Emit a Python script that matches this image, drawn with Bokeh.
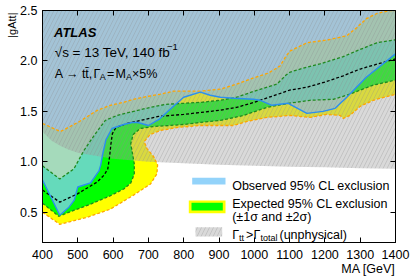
import numpy as np
from bokeh.plotting import figure
from bokeh.models import (Range1d, LinearAxis, FixedTicker, Label, BoxAnnotation,
                          PrintfTickFormatter, CustomJSTickFormatter, Title)
from bokeh.embed import file_html
from bokeh.resources import INLINE

# ---------------- data ----------------
x_ticks = [400, 500, 600, 700, 800, 900, 1000, 1100, 1200, 1300, 1400]
y_ticks = [0.5, 1.0, 1.5, 2.0, 2.5]

# observed 95% CL exclusion contour (excluded above)
obs_x = [400, 449, 475, 490, 500, 536, 560, 565, 572, 580, 597, 630, 654, 670, 700, 730, 771, 800, 847, 875, 904, 941, 997, 1017, 1050, 1096, 1149, 1195, 1229, 1262, 1318, 1400]
obs_y = [0.82, 0.47, 0.55, 0.62, 0.75, 0.79, 0.91, 0.97, 1.10, 1.22, 1.33, 1.37, 1.39, 1.39, 1.36, 1.42, 1.55, 1.64, 1.69, 1.66, 1.64, 1.63, 1.62, 1.61, 1.56, 1.58, 1.48, 1.50, 1.53, 1.64, 1.84, 2.07]

# expected contour
exp_x = [400, 449, 498, 555, 575, 585, 590, 594, 598, 608, 640, 677, 729, 800, 850, 900, 950, 1000, 1050, 1100, 1150, 1200, 1250, 1300, 1350, 1400]
exp_y = [0.72, 0.60, 0.68, 0.80, 0.87, 0.93, 1.05, 1.18, 1.28, 1.34, 1.38, 1.41, 1.45, 1.47, 1.49, 1.51, 1.54, 1.59, 1.65, 1.71, 1.74, 1.79, 1.85, 1.92, 1.97, 2.02]

# expected -1 sigma
m1_x = [400, 446, 490, 536, 590, 630, 650, 660, 660, 655, 650, 657, 677, 715, 760, 800, 847, 904, 970, 1036, 1097, 1158, 1224, 1262, 1337, 1400]
m1_y = [0.59, 0.46, 0.52, 0.58, 0.66, 0.73, 0.79, 0.88, 0.98, 1.08, 1.18, 1.27, 1.33, 1.35, 1.36, 1.37, 1.39, 1.41, 1.46, 1.54, 1.58, 1.61, 1.62, 1.66, 1.76, 1.81]

# expected -2 sigma
m2_x = [400, 449, 526, 592, 658, 706, 724, 726, 715, 696, 688, 705, 734, 781, 847, 941, 979, 1036, 1102, 1158, 1205, 1243, 1252, 1271, 1300, 1337, 1400]
m2_y = [0.50, 0.38, 0.45, 0.53, 0.67, 0.78, 0.88, 0.97, 1.05, 1.13, 1.20, 1.27, 1.31, 1.34, 1.36, 1.36, 1.40, 1.44, 1.46, 1.44, 1.47, 1.46, 1.43, 1.46, 1.55, 1.61, 1.67]

# expected +1 sigma
p1_x = [400, 449, 489, 517, 550, 578, 611, 658, 706, 750, 800, 850, 904, 950, 1000, 1064, 1090, 1102, 1150, 1186, 1250, 1290, 1347, 1400]
p1_y = [0.96, 0.83, 0.93, 1.11, 1.28, 1.41, 1.46, 1.50, 1.54, 1.57, 1.58, 1.59, 1.61, 1.64, 1.70, 1.77, 1.86, 1.89, 1.94, 1.97, 2.04, 2.10, 2.18, 2.21]

# expected +2 sigma
p2_x = [400, 451, 505, 555, 592, 630, 658, 700, 734, 771, 847, 904, 950, 988, 1040, 1073, 1090, 1102, 1149, 1210, 1262, 1290, 1318, 1347, 1384, 1400]
p2_y = [1.38, 1.30, 1.40, 1.51, 1.56, 1.59, 1.62, 1.65, 1.67, 1.70, 1.70, 1.72, 1.77, 1.82, 1.88, 1.95, 2.05, 2.10, 2.18, 2.21, 2.25, 2.33, 2.42, 2.47, 2.50, 2.50]

# unphysical boundary (Gamma_tt > Gamma_total above)
gray_x = [400, 425, 450, 475, 500, 550, 600, 700, 800, 900, 1000, 1100, 1200, 1300, 1400]
gray_y = [1.30, 1.21, 1.16, 1.12, 1.09, 1.06, 1.03, 1.00, 0.985, 0.97, 0.96, 0.95, 0.945, 0.935, 0.93]

# ---------------- layout ----------------
X0, X1 = 400, 1400
Y0, Y1 = 0.2, 2.5
W, H = 410, 278
ML, MR, MT, MB = 42, 15, 10, 36
FW = W - ML - MR
FH = H - MT - MB
FL = ML   # frame left in canvas px
FT = MT   # frame top in canvas px

FONT = "Liberation Sans"

YELLOW = "#ffff00"
GREEN = "#00ff00"
OBS_FILL = "#87cefa"
OBS_LINE = "#2b8ef0"
ORANGE = "#ffa500"
DKGREEN = "#1f8a1f"


def dx(px):
    return X0 + (px - FL) / FW * (X1 - X0)


def dy(py):
    return Y1 - (py - FT) / FH * (Y1 - Y0)


p = figure(width=W, height=H, x_range=Range1d(X0, X1), y_range=Range1d(Y0, Y1),
           output_backend="svg", toolbar_location=None,
           min_border_left=ML, min_border_right=MR, min_border_top=MT, min_border_bottom=MB)
p.grid.visible = False
p.background_fill_color = "white"
p.border_fill_color = "white"
p.outline_line_color = "black"
p.outline_line_width = 1


def above(xs, ys):
    return list(xs) + [X1, X0], list(ys) + [Y1, Y1]


# bands painted from the most sensitive contour upward
for (xs, ys, col) in [(m2_x, m2_y, YELLOW), (m1_x, m1_y, GREEN), (p1_x, p1_y, YELLOW), (p2_x, p2_y, "white")]:
    px_, py_ = above(xs, ys)
    p.patch(px_, py_, fill_color=col, line_color=None)

ox, oy = above(obs_x, obs_y)
p.patch(ox, oy, fill_color=OBS_FILL, fill_alpha=0.75, line_color=None)

gx, gy = above(gray_x, gray_y)
p.patch(gx, gy, fill_color="#a0a0a0", fill_alpha=0.4, line_color=None,
        hatch_pattern="/", hatch_color="#8a8a8a", hatch_alpha=0.35, hatch_scale=8, hatch_weight=0.8)

# contour lines
p.line(m2_x, m2_y, line_color=ORANGE, line_width=1.3, line_dash="3 2")
p.line(p2_x, p2_y, line_color=ORANGE, line_width=1.3, line_dash="3 2")
p.line(m1_x, m1_y, line_color=DKGREEN, line_width=1.3, line_dash="3 2")
p.line(p1_x, p1_y, line_color=DKGREEN, line_width=1.3, line_dash="3 2")
p.line(exp_x, exp_y, line_color="black", line_width=1.3, line_dash="3 2")
p.line(obs_x, obs_y, line_color=OBS_LINE, line_width=1.4)

# axes
for ax in [p.xaxis[0], p.yaxis[0]]:
    ax.major_tick_in = 5
    ax.major_tick_out = 0
    ax.minor_tick_in = 0
    ax.minor_tick_out = 0
    ax.axis_line_color = "black"
    ax.major_tick_line_color = "black"
    ax.major_label_text_font = FONT
    ax.major_label_text_font_size = "12.5px"
    ax.major_label_text_color = "black"
p.xaxis[0].ticker = FixedTicker(ticks=x_ticks)
p.yaxis[0].ticker = FixedTicker(ticks=y_ticks)
p.yaxis[0].formatter = PrintfTickFormatter(format="%.1f")
p.xaxis[0].major_label_standoff = 7
p.yaxis[0].major_label_standoff = 5

for loc, tk in [("above", x_ticks), ("right", y_ticks)]:
    ax = LinearAxis(ticker=FixedTicker(ticks=tk), formatter=CustomJSTickFormatter(code="return ''"),
                    major_label_text_font_size="1px", major_label_standoff=0,
                    major_tick_in=5, major_tick_out=0, minor_tick_in=0, minor_tick_out=0,
                    axis_line_color="black", major_tick_line_color="black")
    p.add_layout(ax, loc)

# axis titles (outside the frame)
p.add_layout(Title(text="MA [GeV]", align="right", text_font=FONT, text_font_size="12.5px",
                   text_font_style="normal", text_color="black", standoff=-4, offset=0), "below")
p.add_layout(Title(text="|gAtt|", align="right", text_font=FONT, text_font_size="11px",
                   text_font_style="normal", text_color="black", standoff=0, offset=2), "left")

# ---------------- text helpers ----------------
def put(px, py, text, size=12.5, style="normal", align="left"):
    p.add_layout(Label(x=dx(px), y=dy(py), text=text, text_font=FONT, text_font_size=f"{size}px",
                       text_font_style=style, text_color="black", text_align=align,
                       text_baseline="alphabetic"))


# header texts
put(53.5, 31.5, "ATLAS", size=13, style="bold italic")
put(54.3, 52, "\u221as", size=13.5)
put(72.0, 52, "= 13 TeV, 140 fb", size=13.5)
put(166.5, 46.5, "\u22121", size=9.5)
put(54.3, 73, "A \u2192 tt\u0304,")
put(93.0, 73, "\u0393")
put(99.3, 76, "A", size=9)
put(106.5, 73, "=")
put(115.0, 73, "M")
put(125.6, 76, "A", size=9)
put(131.5, 73, "\u00d75%")

# ---------------- legend ----------------
def box(l, t, r, b, **kw):
    p.add_layout(BoxAnnotation(left=dx(l), right=dx(r), top=dy(t), bottom=dy(b), line_color=None, **kw))


box(191.7, 177.3, 225, 184, fill_color=OBS_FILL, fill_alpha=0.9)
box(188.3, 200, 225, 212.7, fill_color=YELLOW, fill_alpha=1)
box(191, 202.3, 222.3, 210, fill_color=GREEN, fill_alpha=1)
p.line([dx(196.5), dx(220.5)], [dy(206.3), dy(206.3)], line_color="black", line_width=1.3, line_dash="3 2")
box(195, 226.7, 221.7, 236, fill_color="#a0a0a0", fill_alpha=0.4,
    hatch_pattern="/", hatch_color="#8a8a8a", hatch_alpha=0.35, hatch_scale=8, hatch_weight=0.8)

LX = 231.7
put(LX, 185.2, "Observed 95% CL exclusion")
put(LX, 203.8, "Expected 95% CL exclusion")
put(LX, 216.5, "(\u00b11\u03c3 and \u00b12\u03c3)")
put(231.7, 234.5, "\u0393")
put(238.5, 237.5, "tt", size=9)
put(245.5, 234.5, ">")
put(253.0, 234.5, "\u0393")
put(260.0, 237.5, "total", size=9)
put(279.0, 234.5, "(unphysical)")

open("out.html", "w").write(file_html(p, INLINE))
